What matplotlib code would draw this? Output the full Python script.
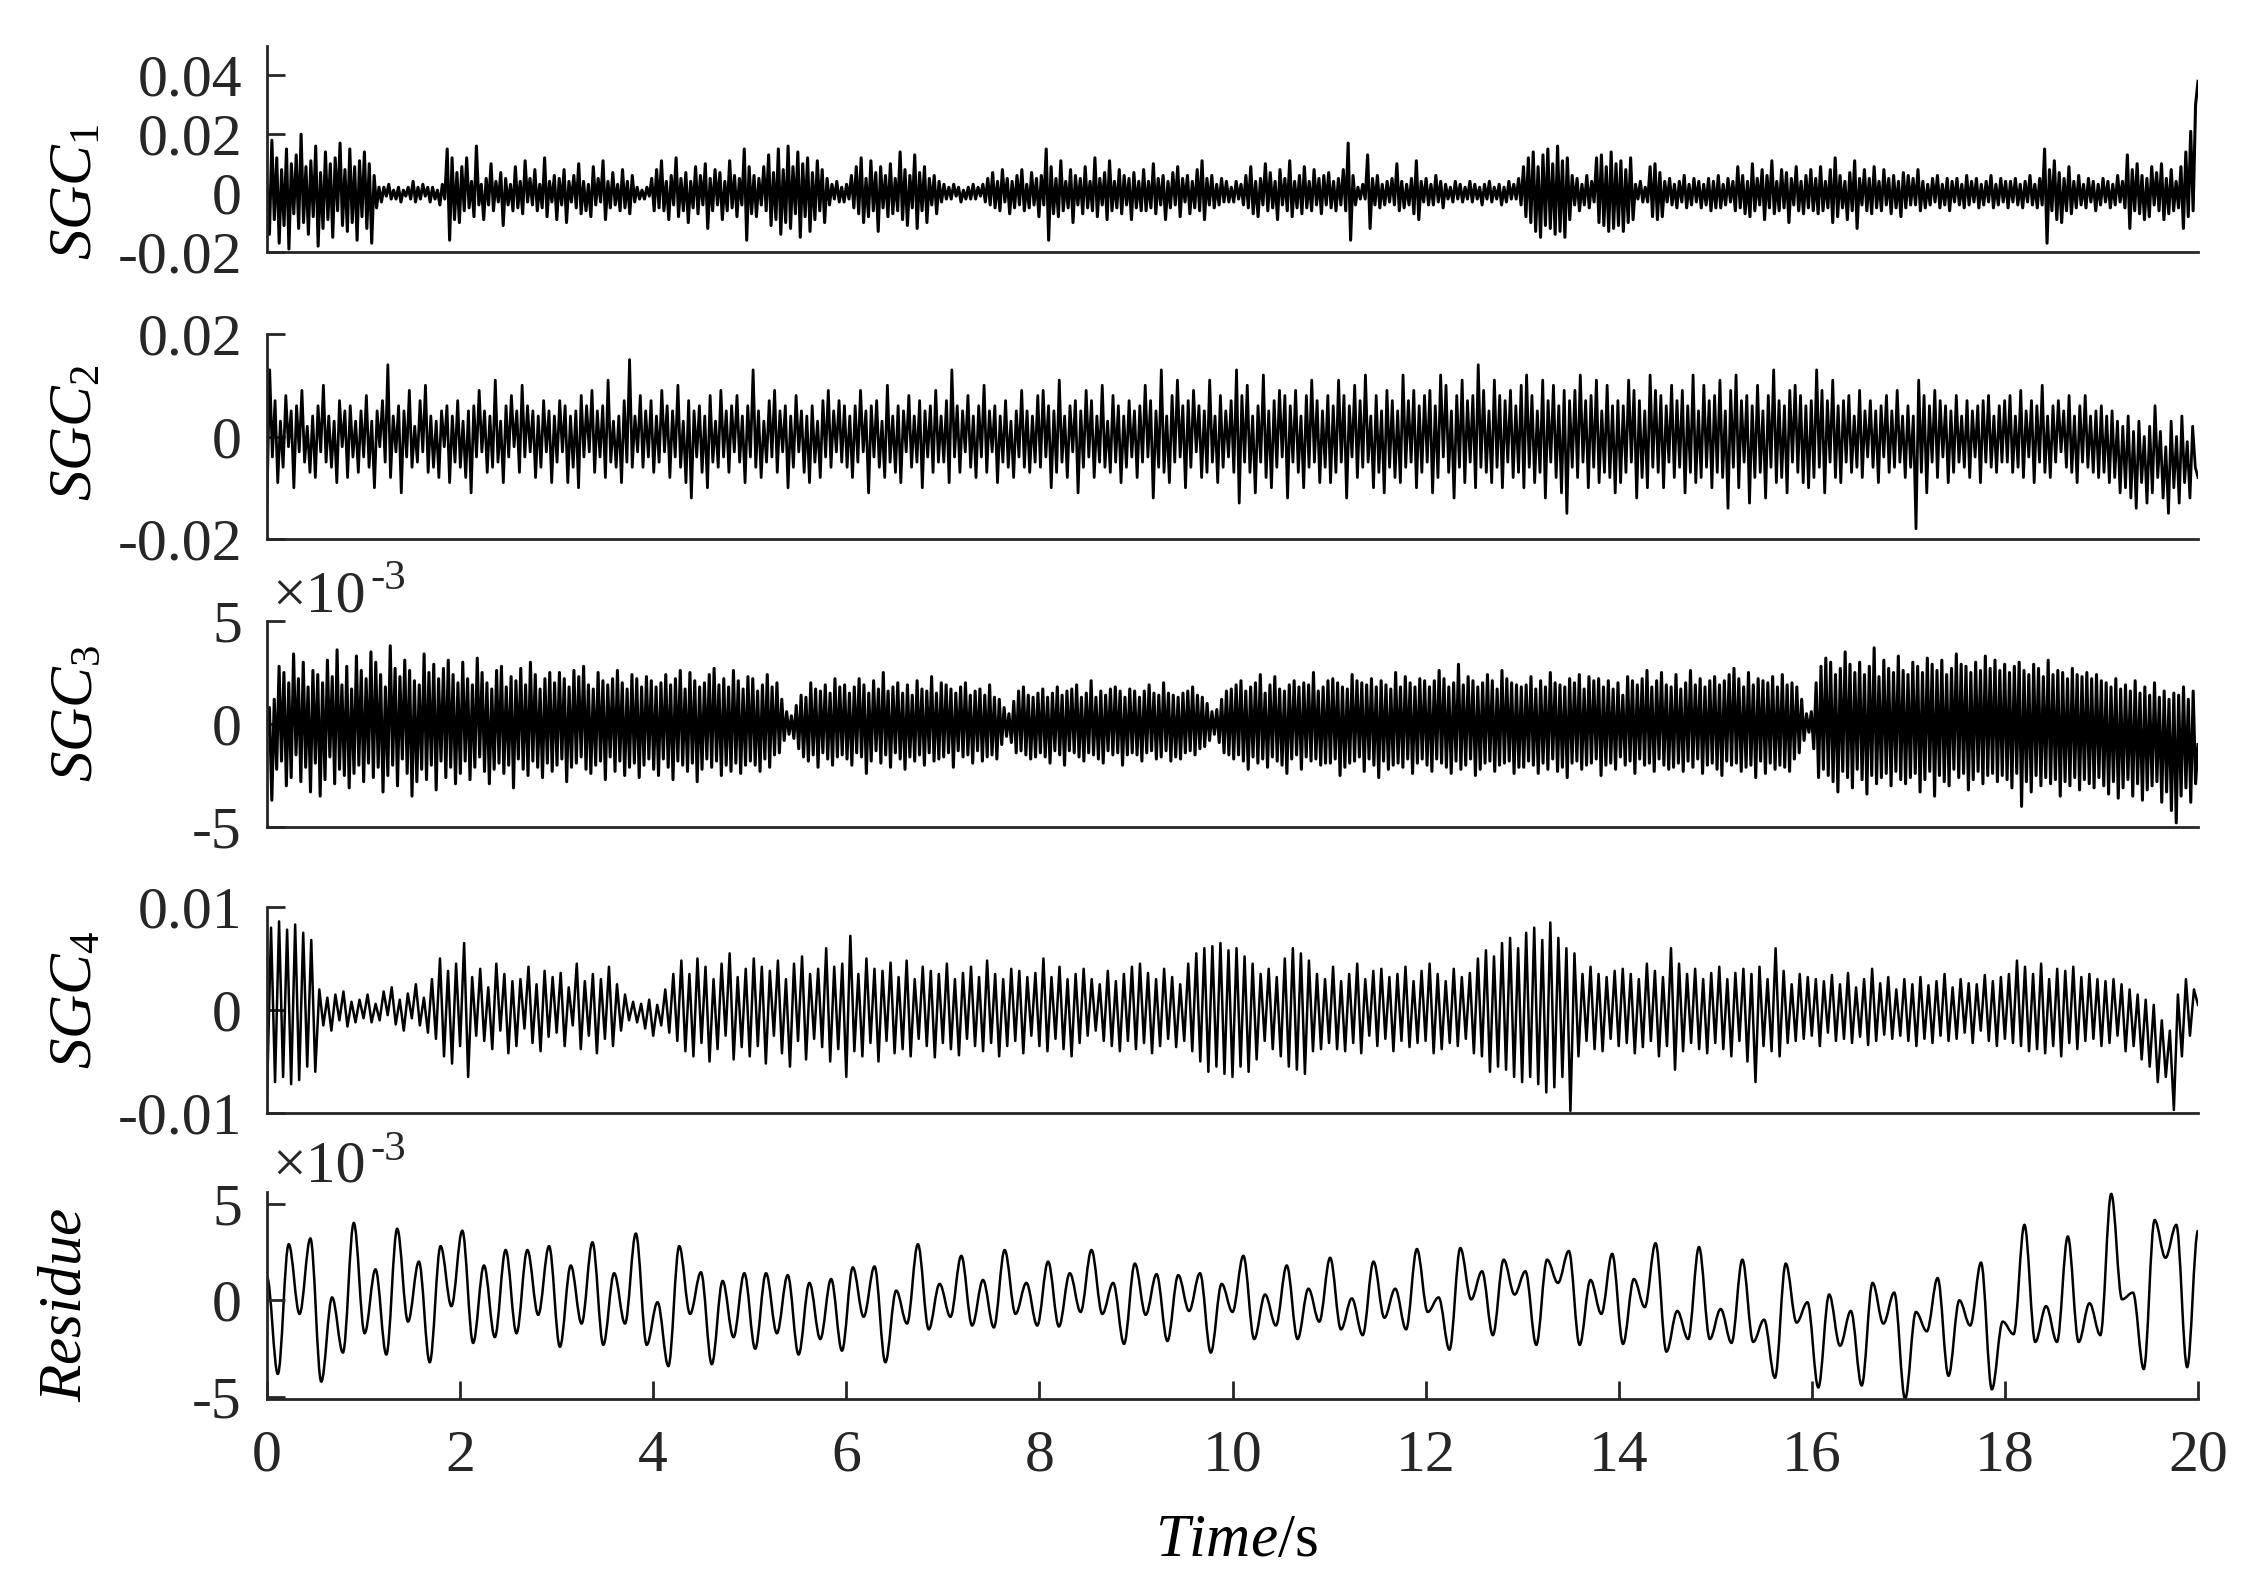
import numpy as np
import matplotlib
matplotlib.use("Agg")
import matplotlib.pyplot as plt
from matplotlib.path import Path
from matplotlib.patches import PathPatch

# ---------------- data ----------------
# SGC1, units of 1e-3, 40 values per second (one row per second)
sgc1_milli = [
    3, -14, 18, -9, 12, -17, 8, -11, 15, -19, 10, -7, 13, -12, 20, -10, 9, -14, 11, -8, 16, -18, 7, -12, 14, -9, 10, -15, 12, -6, 17, -11, 8, -13, 15, -10, 9, -16, 11, -8,
    14, -12, 10, -17, 6, -5, 2, -3, 2, -1, 3, -2, 1, -2, 2, -3, 1, -1, 2, -2, 4, -3, 2, -2, 3, -1, 2, -3, 2, -2, 1, -4, 3, -2, 15, -16, 12, -9, 7, -10,
    9, -6, 12, -5, 4, -8, 16, -4, 3, -9, 5, -4, 10, -6, 4, -3, 7, -11, 5, -4, 3, -6, 9, -5, 4, -7, 11, -3, 5, -4, 8, -6, 3, -5, 12, -8, 4, -3, 6, -9,
    5, -4, 8, -10, 4, -3, 6, -5, 10, -7, 4, -6, 3, -8, 9, -4, 5, -3, 11, -9, 4, -5, 7, -4, 3, -6, 8, -5, 4, -7, 6, -3, 2, -2, 1, -2, 2, -1, 5, -6,
    8, -5, 11, -6, 4, -9, 6, -4, 12, -8, 5, -6, 7, -10, 4, -5, 9, -7, 6, -4, 10, -12, 5, -6, 8, -4, 7, -9, 4, -6, 11, -5, 6, -8, 5, -4, 15, -16, 9, -7,
    6, -8, 5, -4, 9, -6, 13, -11, 7, -9, 15, -14, 8, -10, 16, -12, 9, -7, 14, -15, 10, -8, 12, -13, 7, -9, 11, -6, 8, -10, 5, -4, 3, -2, 4, -3, 2, -3, 3, -2,
    6, -5, 9, -7, 12, -10, 5, -8, 11, -6, 7, -13, 9, -5, 6, -8, 10, -7, 5, -6, 14, -9, 8, -11, 6, -5, 13, -12, 7, -6, 9, -10, 5, -4, 6, -7, 4, -3, 3, -2,
    2, -2, 3, -1, 2, -3, 1, -2, 2, -2, 3, -2, 2, -1, 3, -3, 5, -4, 7, -5, 4, -6, 8, -3, 5, -7, 4, -5, 6, -4, 8, -6, 3, -5, 7, -4, 5, -8, 6, -4,
    15, -16, 9, -7, 5, -8, 11, -6, 4, -5, 8, -10, 6, -4, 5, -7, 9, -5, 4, -6, 12, -8, 5, -4, 7, -9, 11, -6, 4, -5, 8, -7, 6, -4, 5, -9, 7, -5, 4, -6,
    8, -6, 4, -5, 10, -7, 5, -4, 6, -9, 4, -5, 7, -4, 9, -8, 5, -3, 6, -7, 4, -5, 8, -6, 11, -9, 5, -4, 6, -5, 3, -4, 5, -3, 4, -3, 2, -3, 4, -2,
    3, -4, 6, -5, 9, -7, 4, -8, 5, -4, 10, -6, 7, -5, 4, -9, 8, -4, 5, -6, 11, -8, 4, -5, 6, -7, 9, -5, 4, -6, 8, -4, 5, -7, 6, -4, 7, -5, 4, -6,
    5, -4, 8, -6, 17, -16, 6, -4, 2, -2, 3, -2, 13, -12, 5, -4, 6, -5, 3, -4, 4, -3, 5, -4, 10, -6, 4, -5, 3, -4, 5, -7, 11, -9, 4, -3, 5, -4,
    3, -4, 6, -3, 4, -5, 3, -2, 2, -3, 4, -2, 3, -3, 2, -2, 4, -3, 3, -2, 2, -4, 3, -2, 4, -3, 2, -2, 3, -4, 2, -3, 4, -2, 3, -2, 5, -4, 9, -8,
    12, -10, 14, -13, 9, -15, 13, -11, 15, -12, 10, -14, 16, -13, 11, -15, 12, -9, 6, -4, 5, -6, 3, -4, 6, -5, 4, -3, 12, -10, 13, -11, 9, -13, 14, -12, 10, -11,
    11, -13, 8, -10, 12, -9, 3, -2, 4, -3, 2, -3, 9, -8, 10, -9, 7, -8, 4, -3, 5, -4, 3, -5, 4, -3, 6, -5, 3, -4, 5, -3, 4, -5, 3, -4, 5, -6, 4, -5,
    6, -5, 3, -4, 5, -3, 4, -6, 9, -5, 6, -7, 4, -8, 10, -6, 5, -4, 8, -9, 6, -5, 11, -7, 4, -6, 8, -5, 7, -10, 5, -4, 9, -6, 4, -7, 6, -5, 8, -6,
    5, -7, 9, -6, 4, -5, 8, -10, 12, -8, 6, -5, 4, -9, 7, -6, 11, -12, 5, -4, 8, -6, 5, -7, 9, -5, 4, -6, 8, -4, 5, -7, 6, -5, 4, -8, 7, -5, 6, -4,
    5, -4, 8, -6, 4, -5, 3, -4, 5, -3, 6, -5, 3, -4, 5, -6, 4, -3, 5, -4, 3, -5, 6, -4, 4, -3, 5, -5, 3, -4, 4, -3, 6, -5, 3, -4, 5, -3, 4, -5,
    4, -3, 5, -4, 3, -5, 4, -3, 6, -4, 3, -5, 5, -4, 15, -17, 8, -6, 11, -9, 7, -10, 5, -6, 9, -7, 4, -5, 6, -4, 3, -5, 5, -3, 4, -6, 3, -4, 5, -3,
    4, -5, 3, -4, 6, -3, 4, -5, 13, -12, 8, -6, 10, -7, 6, -9, 5, -8, 9, -4, 7, -6, 10, -9, 5, -7, 8, -6, 4, -5, 9, -12, 14, -8, 21, -6, 30, 38,
]

# SGC2, units of 1e-3, 36 values per second
sgc2_milli = [
    -13, 13, -4, 7, -9, 3, -6, 8, -2, 5, -10, 6, -3, 9, -5, 2, -7, 4, -8, 6, -3, 10, -5, 4, -6, 3, -9, 7, -2, 5, -8, 6, -4, 3, -7, 5,
    -4, 8, -6, 3, -10, 5, -2, 7, -5, 14, -8, 4, -3, 6, -11, 5, -4, 9, -6, 2, -5, 7, -3, 10, -7, 4, -6, 3, -8, 5, -2, 6, -9, 4, -5, 7,
    -6, 3, -8, 5, -11, 6, -4, 9, -3, 5, -7, 4, -6, 11, -5, 3, -9, 6, -4, 8, -2, 5, -7, 10, -4, 6, -3, 5, -8, 4, -6, 7, -3, 5, -9, 4,
    -5, 7, -3, 6, -9, 4, -6, 5, -10, 8, -4, 6, -3, 9, -7, 5, -4, 6, -8, 11, -5, 3, -6, 4, -9, 7, -5, 15, -6, 4, -3, 8, -6, 5, -4, 7,
    -7, 4, -5, 9, -3, 6, -8, 5, -4, 10, -6, 3, -9, 7, -12, 5, -4, 6, -7, 4, -10, 8, -5, 3, -6, 9, -4, 5, -7, 6, -3, 8, -5, 4, -9, 6,
    -4, 13, -6, 5, -8, 3, -5, 7, -4, 9, -7, 5, -3, 6, -10, 4, -6, 8, -3, 5, -7, 4, -9, 6, -5, 3, -8, 7, -4, 9, -6, 5, -3, 7, -5, 6,
    -6, 4, -8, 6, -5, 9, -3, 5, -11, 6, -4, 7, -6, 3, -8, 10, -5, 4, -7, 6, -9, 5, -3, 8, -6, 4, -5, 7, -10, 5, -4, 6, -7, 9, -5, 4,
    -5, 7, -9, 13, -4, 6, -7, 5, -3, 8, -6, 4, -8, 6, -4, 10, -7, 5, -3, 6, -9, 4, -5, 7, -6, 3, -8, 5, -4, 9, -6, 5, -7, 4, -5, 8,
    -6, 9, -4, 6, -10, 5, -7, 11, -5, 4, -8, 6, -3, 7, -11, 5, -6, 9, -4, 7, -8, 4, -5, 10, -6, 3, -7, 8, -5, 6, -9, 4, -6, 7, -4, 5,
    -8, 6, -5, 10, -4, 7, -12, 5, -6, 13, -7, 4, -9, 8, -5, 11, -4, 6, -10, 7, -6, 9, -3, 6, -8, 5, -7, 11, -5, 4, -9, 8, -6, 5, -4, 7,
    -7, 13, -13, 8, -5, 10, -7, 4, -11, 6, -5, 12, -8, 5, -10, 7, -6, 9, -4, 8, -12, 6, -5, 9, -7, 4, -10, 8, -6, 11, -5, 7, -9, 5, -6, 8,
    -9, 6, -7, 11, -5, 8, -12, 6, -4, 10, -8, 7, -6, 12, -5, 4, -10, 8, -7, 5, -11, 9, -6, 7, -8, 5, -9, 12, -6, 7, -5, 9, -10, 6, -7, 8,
    -5, 9, -11, 6, -8, 12, -4, 10, -7, 5, -12, 8, -6, 11, -9, 7, -5, 8, -10, 14, -6, 9, -7, 5, -9, 11, -6, 8, -10, 7, -5, 9, -8, 6, -7, 10,
    -10, 12, -6, 8, -9, 5, -7, 11, -12, 7, -5, 10, -8, 6, -11, 9, -15, 7, -6, 9, -8, 12, -5, 7, -10, 8, -6, 11, -9, 5, -7, 10, -8, 6, -11, 7,
    -9, 6, -7, 11, -5, 9, -12, 7, -8, 5, -10, 12, -6, 9, -7, 8, -10, 6, -5, 10, -8, 7, -6, 9, -11, 6, -7, 12, -9, 5, -8, 10, -6, 7, -10, 8,
    -7, 11, -8, 5, -14, 9, -6, 12, -10, 7, -5, 8, -13, 6, -8, 10, -7, 5, -12, 8, -6, 13, -9, 7, -8, 6, -11, 9, -5, 10, -7, 8, -9, 6, -10, 7,
    -8, 13, -6, 9, -11, 7, -5, 11, -8, 6, -9, 7, -5, 8, -7, 4, -6, 9, -8, 5, -4, 7, -6, 5, -9, 6, -4, 8, -7, 5, -6, 9, -5, 4, -8, 6,
    -6, 4, -18, 11, -7, 8, -11, 6, -5, 9, -8, 7, -4, 6, -9, 5, -7, 8, -5, 4, -6, 7, -8, 5, -4, 6, -9, 7, -5, 8, -6, 4, -7, 6, -5, 7,
    -5, 8, -7, 4, -6, 9, -8, 5, -4, 7, -9, 6, -5, 10, -7, 4, -8, 6, -5, 7, -3, 5, -6, 8, -7, 4, -9, 6, -5, 8, -6, 4, -7, 5, -8, 6,
    -7, 4, -9, 5, -8, 3, -11, 2, -10, 4, -12, 1, -14, 3, -9, 0, -13, 2, -11, 6, -8, 1, -12, -2, -15, 3, -10, 0, -13, 4, -9, -1, -12, 2, -6, -8,
]

# SGC3, units of 1e-4, 40 values per second
sgc3_tenth_milli = [
    -5, 8, -37, 12, -22, 28, -18, 25, -30, 20, -26, 34, -15, 22, -28, 30, -21, 18, -33, 26, -19, 24, -35, 20, -27, 31, -16, 23, -29, 36, -22, 19, -25, 28, -31, 17, -24, 33, -20, 26,
    -28, 22, -19, 35, -26, 30, -21, 24, -33, 18, -25, 38, -20, 27, -30, 23, -17, 31, -24, 26, -35, 21, -28, 19, -22, 34, -27, 25, -20, 29, -32, 22, -18, 27, -26, 31, -21, 24, -29, 20,
    -24, 30, -18, 22, -27, 19, -21, 32, -16, 25, -23, 20, -29, 17, -22, 26, -19, 28, -24, 18, -20, 23, -31, 21, -17, 27, -22, 19, -25, 30, -18, 24, -21, 17, -26, 22, -19, 25, -23, 20,
    -20, 25, -17, 22, -28, 18, -21, 26, -19, 23, -16, 28, -22, 19, -24, 17, -20, 25, -18, 21, -27, 19, -16, 22, -23, 26, -18, 20, -25, 17, -21, 24, -19, 22, -26, 18, -20, 23, -17, 21,
    -22, 18, -25, 20, -17, 24, -21, 19, -27, 22, -18, 26, -20, 17, -23, 25, -19, 21, -28, 18, -22, 20, -17, 24, -21, 27, -18, 19, -25, 22, -20, 18, -23, 26, -19, 21, -24, 17, -20, 23,
    -18, 22, -20, 16, -23, 19, -17, 24, -21, 18, -15, 20, -14, 12, -8, 6, -5, 4, -7, 9, -12, 14, -16, 13, -18, 20, -15, 17, -21, 16, -14, 19, -17, 15, -20, 22, -16, 18, -15, 19,
    -17, 15, -20, 18, -14, 22, -16, 19, -24, 15, -18, 21, -13, 17, -19, 25, -15, 16, -21, 18, -14, 20, -17, 15, -22, 19, -16, 14, -18, 21, -15, 17, -20, 16, -14, 23, -18, 15, -17, 20,
    -16, 19, -14, 17, -21, 15, -13, 18, -16, 20, -15, 14, -19, 16, -13, 17, -18, 14, -16, 19, -15, 13, -17, 12, -10, 8, -6, 5, -9, 11, -14, 16, -13, 18, -15, 14, -17, 13, -16, 15,
    -14, 17, -16, 13, -19, 15, -13, 18, -15, 14, -20, 16, -13, 17, -14, 19, -16, 13, -18, 15, -14, 21, -15, 13, -17, 16, -19, 14, -13, 17, -15, 18, -14, 16, -20, 13, -15, 17, -14, 16,
    -15, 13, -18, 16, -14, 19, -13, 15, -17, 14, -16, 20, -13, 15, -18, 14, -16, 13, -17, 15, -14, 16, -13, 18, -15, 14, -12, 13, -11, 10, -8, 6, -5, 7, -9, 12, -14, 16, -15, 17,
    -17, 19, -15, 21, -18, 16, -22, 18, -16, 20, -19, 24, -17, 15, -21, 19, -16, 23, -18, 17, -20, 16, -24, 19, -17, 21, -15, 18, -22, 20, -16, 19, -18, 25, -17, 16, -20, 18, -19, 21,
    -19, 22, -17, 20, -25, 18, -21, 17, -19, 24, -18, 21, -16, 20, -23, 19, -17, 22, -20, 18, -26, 21, -18, 19, -22, 17, -20, 25, -19, 18, -21, 23, -17, 20, -24, 18, -19, 22, -17, 21,
    -20, 18, -23, 21, -17, 26, -19, 22, -21, 18, -24, 20, -18, 29, -22, 19, -20, 23, -17, 21, -25, 18, -22, 20, -19, 24, -18, 21, -23, 17, -20, 26, -19, 22, -18, 20, -24, 19, -21, 18,
    -21, 19, -18, 23, -20, 17, -24, 21, -19, 18, -22, 25, -17, 20, -23, 19, -21, 18, -26, 22, -19, 20, -18, 24, -22, 17, -20, 23, -19, 21, -17, 22, -25, 18, -20, 21, -19, 17, -22, 20,
    -16, 14, -20, 23, -18, 21, -24, 19, -17, 22, -20, 26, -19, 18, -23, 21, -17, 25, -20, 19, -22, 18, -21, 24, -19, 17, -23, 20, -18, 26, -21, 19, -17, 22, -24, 18, -20, 21, -19, 23,
    -22, 19, -25, 21, -18, 24, -20, 27, -19, 22, -23, 18, -21, 25, -20, 19, -26, 22, -18, 21, -24, 20, -19, 23, -22, 18, -20, 24, -21, 19, -23, 20, -17, 18, -14, 12, -8, 5, -4, 6,
    -12, 20, -26, 28, -22, 32, -25, 30, -28, 24, -33, 27, -23, 35, -26, 29, -31, 25, -22, 30, -27, 24, -34, 28, -25, 37, -29, 23, -26, 31, -24, 27, -30, 25, -23, 33, -27, 26, -29, 24,
    -26, 30, -24, 28, -33, 25, -27, 32, -23, 29, -35, 26, -25, 31, -28, 24, -30, 27, -22, 34, -26, 29, -24, 28, -32, 25, -27, 30, -23, 26, -29, 33, -25, 27, -24, 31, -28, 26, -25, 29,
    -27, 25, -31, 28, -24, 30, -40, 26, -28, 24, -33, 29, -25, 27, -30, 23, -26, 31, -29, 24, -27, 26, -35, 25, -28, 22, -30, 27, -26, 24, -32, 23, -27, 25, -29, 22, -31, 24, -26, 21,
    -30, 20, -34, 18, -28, 22, -36, 17, -31, 19, -27, 16, -35, 21, -29, 15, -37, 18, -32, 14, -30, 20, -28, 13, -38, 16, -33, 12, -42, 15, -48, 14, -35, 18, -31, 12, -38, 16, -29, -10,
]

# SGC4, units of 1e-3, 24 values per second
sgc4_milli = [
    -8.5, 8.0, -7.0, 8.6, -6.5, 7.8, -7.2, 8.3, -6.8, 7.5, -5.5, 6.8, -6.0, 2.0, -1.5, 1.2, -2.0, 1.5, -1.0, 1.8, -1.6, 0.8, -1.2, 1.0,
    -0.8, 1.5, -1.2, 0.6, -1.0, 1.8, -0.5, 2.2, -1.4, 1.0, -2.0, 1.6, -0.8, 2.5, -1.5, 1.2, -2.2, 3.0, -2.8, 5.0, -4.5, 3.8, -5.2, 4.5,
    -3.5, 6.5, -6.5, 3.2, -2.5, 4.0, -3.0, 2.2, -3.8, 4.5, -2.0, 3.5, -4.2, 2.8, -3.5, 3.0, -1.8, 4.2, -3.2, 2.5, -4.0, 3.8, -2.6, 3.2,
    -2.2, 3.6, -3.5, 2.2, -1.5, 4.5, -3.8, 2.8, -2.5, 3.5, -4.2, 3.0, -2.8, 4.2, -3.5, 2.5, -2.0, 1.5, -1.0, 0.8, -1.2, 0.6, -1.8, 1.0,
    -2.5, 0.5, -1.5, 2.0, -2.2, 3.5, -3.0, 4.8, -4.0, 3.5, -4.5, 5.0, -3.2, 4.2, -5.0, 3.0, -3.8, 4.5, -2.5, 5.5, -4.8, 3.2, -3.6, 4.0,
    -4.5, 5.0, -3.5, 4.2, -5.2, 3.8, -2.5, 4.8, -4.2, 3.0, -5.5, 4.5, -3.0, 5.2, -4.8, 3.5, -2.8, 4.0, -3.6, 6.0, -5.0, 4.2, -3.8, 4.5,
    -6.5, 7.2, -4.0, 3.5, -4.5, 5.0, -3.2, 4.0, -5.0, 3.8, -3.0, 4.6, -4.2, 3.2, -3.8, 4.8, -4.5, 3.0, -2.8, 4.2, -3.5, 3.8, -4.6, 3.5,
    -3.2, 4.5, -3.8, 3.0, -4.4, 3.6, -2.8, 4.2, -3.5, 3.2, -4.0, 4.8, -3.2, 3.5, -4.5, 3.0, -3.5, 4.0, -3.0, 3.8, -4.2, 3.2, -2.5, 3.6,
    -3.5, 5.0, -4.0, 3.2, -2.8, 4.2, -3.8, 3.0, -4.5, 3.5, -3.2, 4.0, -2.5, 3.0, -2.0, 2.5, -3.0, 3.8, -3.5, 2.8, -4.0, 3.5, -3.0, 4.2,
    -3.8, 4.5, -3.2, 3.6, -4.2, 3.0, -3.5, 4.0, -2.8, 3.2, -3.6, 2.5, -3.0, 4.5, -4.0, 5.5, -5.0, 6.0, -6.0, 6.2, -5.5, 6.5, -6.2, 5.8,
    -6.5, 6.0, -5.5, 5.2, -6.0, 4.5, -4.8, 3.5, -3.0, 4.0, -3.8, 3.2, -4.5, 5.0, -5.5, 6.0, -5.8, 5.5, -6.2, 4.8, -4.0, 3.5, -3.8, 3.0,
    -3.2, 4.2, -3.8, 2.8, -4.0, 3.5, -3.2, 4.5, -4.2, 3.0, -2.5, 3.8, -3.5, 4.0, -2.8, 3.2, -4.0, 3.5, -3.0, 4.2, -3.6, 2.8, -3.2, 3.8,
    -3.0, 4.5, -4.2, 3.5, -3.8, 2.8, -3.2, 4.0, -3.5, 3.2, -2.8, 3.6, -4.2, 5.0, -4.5, 5.8, -6.0, 5.2, -5.5, 6.5, -5.8, 7.0, -6.5, 6.0,
    -7.0, 7.5, -6.5, 8.0, -7.2, 6.8, -8.0, 8.5, -7.5, 7.0, -6.5, 6.0, -9.8, 5.5, -4.5, 3.5, -3.0, 4.2, -3.8, 3.5, -4.0, 3.2, -2.8, 3.8,
    -3.5, 4.0, -3.2, 3.5, -4.2, 3.0, -3.6, 4.5, -3.0, 3.8, -4.5, 3.2, -3.5, 6.0, -5.8, 4.5, -4.0, 3.5, -3.2, 4.0, -3.8, 3.0, -4.2, 3.6,
    -3.2, 4.2, -3.8, 3.0, -4.5, 3.6, -3.0, 4.0, -5.0, 3.5, -7.0, 4.2, -3.5, 3.0, -4.0, 6.0, -4.5, 3.8, -3.2, 2.5, -3.0, 3.5, -2.8, 3.2,
    -2.5, 3.0, -3.5, 2.8, -2.2, 3.4, -3.0, 2.5, -2.8, 3.6, -3.2, 2.2, -2.6, 3.0, -3.4, 4.0, -3.0, 2.6, -2.4, 3.2, -2.8, 2.0, -2.5, 3.0,
    -3.0, 2.5, -3.5, 3.2, -2.8, 2.4, -3.2, 2.8, -2.5, 3.5, -3.0, 2.2, -2.8, 3.0, -2.2, 2.6, -3.2, 2.5, -2.0, 3.4, -3.0, 2.8, -3.5, 3.2,
    -2.8, 3.5, -3.2, 4.8, -3.5, 4.2, -4.0, 3.5, -3.8, 4.5, -4.2, 3.0, -3.5, 4.0, -4.5, 3.8, -3.2, 4.2, -3.8, 3.2, -3.0, 3.5, -2.8, 3.0,
    -3.5, 2.8, -3.2, 3.0, -2.5, 2.5, -4.0, 2.0, -3.5, 1.5, -4.8, 1.0, -5.5, 0.5, -7.0, -1.0, -6.5, -2.0, -9.7, 1.5, -4.5, 3.0, -2.5, 2.0, 0.5,
]

# Residue: successive peaks / troughs, units of 1e-3
residue_milli = [
    1.2, -3.8, 2.9, -0.7, 3.2, -4.2, 0.15, -2.7, 4.0, -1.7, 1.6, -2.8, 3.7, -1.1, 2.0, -3.2,
    2.8, -0.3, 3.6, -2.2, 1.8, -1.9, 2.6, -1.7, 2.6, -0.75, 2.8, -2.4, 1.8, -1.2, 3.0, -2.3,
    1.4, -1.2, 3.45, -2.3, -0.1, -3.4, 2.8, -0.7, 1.45, -3.3, 1.0, -1.9, 1.4, -2.5, 1.4, -1.7,
    1.3, -2.8, 0.9, -2.0, 1.1, -2.6, 1.7, -0.85, 1.75, -3.2, 0.5, -1.2, 2.9, -1.5, 0.85, -0.85,
    2.3, -1.3, 1.05, -1.4, 2.6, -0.7, 0.9, -1.3, 2.0, -1.35, 1.4, -0.6, 2.6, -0.7, 0.9, -2.25,
    1.9, -0.75, 1.35, -2.1, 1.3, -0.55, 1.4, -2.7, 0.85, -0.6, 2.3, -2.0, 0.3, -1.3, 1.8, -2.0,
    0.6, -1.1, 2.2, -1.5, 0.1, -1.8, 2.0, -0.9, 0.6, -1.5, 2.65, -0.6, 0.15, -2.55, 2.7, 0.05,
    1.5, -1.8, 2.1, 0.3, 1.5, -2.3, 2.1, 0.9, 2.55, -2.3, 1.05, -0.7, 2.4, -2.25, 1.1, -0.35,
    2.95, -2.65, -0.55, -2.0, 2.75, -2.0, -0.45, -2.2, 2.1, -2.15, -1.0, -4.0, 1.9, -1.15, -0.1, -4.5,
    0.3, -2.35, -0.55, -4.4, 0.9, -1.2, 0.4, -5.1, -0.6, -1.6, 1.15, -3.9, 0.0, -1.3, 1.95, -4.6,
    -1.1, -1.75, 3.9, -2.15, -0.3, -2.15, 3.3, -2.15, -0.15, -1.8, 5.5, 0.05, 0.4, -3.55, 4.15, 2.2,
    3.9, -3.45, 3.6,
]

x_ticks = [0, 2, 4, 6, 8, 10, 12, 14, 16, 18, 20]
ylims = [(-0.02, 0.05), (-0.02, 0.02), (-5, 5), (-0.01, 0.01), (-5.1, 5.6)]
yticks = [[-0.02, 0, 0.02, 0.04], [-0.02, 0, 0.02], [-5, 0, 5], [-0.01, 0, 0.01], [-5, 0, 5]]
ytick_labels = [["-0.02", "0", "0.02", "0.04"], ["-0.02", "0", "0.02"], ["-5", "0", "5"],
                ["-0.01", "0", "0.01"], ["-5", "0", "5"]]
ylabels = [r"$\mathit{SGC}_{\mathit{1}}$", r"$\mathit{SGC}_{\mathit{2}}$", r"$\mathit{SGC}_{\mathit{3}}$",
           r"$\mathit{SGC}_{\mathit{4}}$", r"$\mathit{Residue}$"]

# ---------------- style ----------------
plt.rcParams["font.family"] = ["Liberation Serif", "DejaVu Serif"]
plt.rcParams["mathtext.fontset"] = "custom"
plt.rcParams["mathtext.rm"] = "Liberation Serif"
plt.rcParams["mathtext.it"] = "Liberation Serif:italic"
plt.rcParams["axes.unicode_minus"] = False

W, H = 2248, 1576
dark = "#262626"
fs = 43

fig = plt.figure(figsize=(W / 100, H / 100), dpi=100)

# panel boxes in pixels (top, bottom)
boxes = [(46, 252), (334, 539), (621, 827), (907, 1113), (1192, 1399)]
left_px, right_px = 267, 2198
label_y = [192, 433, 713, 1000, 1305]
label_x = [77, 77, 77, 77, 66]
line_w = [2.2, 2.0, 2.2, 1.8, 1.8]


def smooth_path(t, v, k=0.36):
    # cubic bezier through the peaks/troughs, flat at each extremum
    verts = [(t[0], v[0])]
    codes = [Path.MOVETO]
    for i in range(len(t) - 1):
        dt = t[i + 1] - t[i]
        verts += [(t[i] + k * dt, v[i]), (t[i + 1] - k * dt, v[i + 1]), (t[i + 1], v[i + 1])]
        codes += [Path.CURVE4] * 3
    return Path(verts, codes)


series = [np.array(sgc1_milli) * 1e-3, np.array(sgc2_milli) * 1e-3,
          np.array(sgc3_tenth_milli) * 0.1, np.array(sgc4_milli) * 1e-3,
          np.array(residue_milli)]

for i, (top, bot) in enumerate(boxes):
    ax = fig.add_axes([left_px / W, 1 - bot / H, (right_px - left_px) / W, (bot - top) / H])
    y = series[i]
    t = np.linspace(0, 20, len(y))
    if i == 4:
        ax.add_patch(PathPatch(smooth_path(t, y), fill=False, ec="k", lw=line_w[i]))
    else:
        ax.plot(t, y, color="k", lw=line_w[i])

    ax.set_xlim(0, 20)
    ax.set_ylim(*ylims[i])
    ax.set_yticks(yticks[i])
    ax.set_yticklabels(ytick_labels[i])
    for s in ["top", "right"]:
        ax.spines[s].set_visible(False)
    for s in ["left", "bottom"]:
        ax.spines[s].set_linewidth(2.0)
        ax.spines[s].set_color(dark)
    ax.tick_params(axis="y", direction="in", length=13, width=2.0, pad=18,
                   labelsize=fs, colors=dark)
    if i == 4:
        ax.set_xticks(x_ticks)
        ax.set_xticklabels([str(v) for v in x_ticks])
        ax.tick_params(axis="x", direction="in", length=13, width=2.0, pad=22,
                       labelsize=fs, colors=dark)
    else:
        ax.set_xticks([])
    fig.text(label_x[i] / W, 1 - label_y[i] / H, ylabels[i], rotation=90,
             ha="center", va="center", fontsize=44, color="k")

# x10^-3 multipliers
for top in [621, 1192]:
    fig.text(272 / W, 1 - (top - 24) / H, "\u00d710", fontsize=fs, color=dark,
             ha="left", va="center")
    fig.text(370 / W, 1 - (top - 42) / H, "-3", fontsize=31, color=dark,
             ha="left", va="center")

fig.text(1236 / W, 1 - 1541 / H, r"$\mathit{Time}$/s", fontsize=44, color="k",
         ha="center", va="center")

fig.savefig("out.png", dpi=100)
